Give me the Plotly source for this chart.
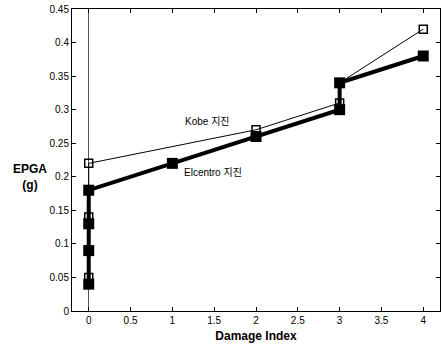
import plotly.graph_objects as go

kobe_x = [0, 0, 0, 2, 3, 3, 4]
kobe_y = [0.05, 0.14, 0.22, 0.27, 0.31, 0.34, 0.42]
elc_x = [0, 0, 0, 0, 1, 2, 3, 3, 4]
elc_y = [0.04, 0.09, 0.13, 0.18, 0.22, 0.26, 0.30, 0.34, 0.38]
x_ticks = [0, 0.5, 1, 1.5, 2, 2.5, 3, 3.5, 4]
x_labels = ["0", "0.5", "1", "1.5", "2", "2.5", "3", "3.5", "4"]
y_ticks = [0, 0.05, 0.1, 0.15, 0.2, 0.25, 0.3, 0.35, 0.4, 0.45]
y_labels = ["0", "0.05", "0.1", "0.15", "0.2", "0.25", "0.3", "0.35", "0.4", "0.45"]

fig = go.Figure()
fig.add_trace(go.Scatter(x=kobe_x, y=kobe_y, mode="lines+markers",
                         line=dict(color="black", width=1),
                         marker=dict(symbol="square-open", size=8, color="black", line=dict(width=1.5)),
                         name="Kobe"))
fig.add_trace(go.Scatter(x=elc_x, y=elc_y, mode="lines+markers",
                         line=dict(color="black", width=4),
                         marker=dict(symbol="square", size=11, color="black"),
                         name="Elcentro"))

fig.add_annotation(x=1.42, y=0.283, text="Kobe 지진", showarrow=False,
                   font=dict(family="Arial, Noto Sans CJK KR", size=10, color="black"))
fig.add_annotation(x=1.49, y=0.207, text="Elcentro 지진", showarrow=False,
                   font=dict(family="Arial, Noto Sans CJK KR", size=10, color="black"))
fig.add_annotation(x=-0.115, y=0.445, xref="paper", yref="paper", xanchor="center",
                   text="<b>EPGA<br>(g)</b>", showarrow=False, align="center",
                   font=dict(family="Liberation Sans, Arial", size=12, color="black"))

fig.update_layout(
    width=443, height=353,
    margin=dict(l=72, r=3, t=9, b=42),
    paper_bgcolor="white", plot_bgcolor="white",
    showlegend=False,
    font=dict(family="Liberation Sans, Arial", size=10, color="black"),
    xaxis=dict(range=[-0.2, 4.2], tickvals=x_ticks, ticktext=x_labels,
               ticks="inside", ticklen=4, tickcolor="black", mirror="ticks",
               showline=True, linecolor="black", linewidth=1, showgrid=False,
               zeroline=True, zerolinecolor="#555555", zerolinewidth=1,
               title=dict(text="<b>Damage Index</b>", font=dict(size=12), standoff=6)),
    yaxis=dict(range=[0, 0.45], tickvals=y_ticks, ticktext=y_labels,
               ticks="inside", ticklen=4, tickcolor="black", mirror="ticks",
               showline=True, linecolor="black", linewidth=1, showgrid=False,
               zeroline=False),
)
fig.write_html("out.html")
